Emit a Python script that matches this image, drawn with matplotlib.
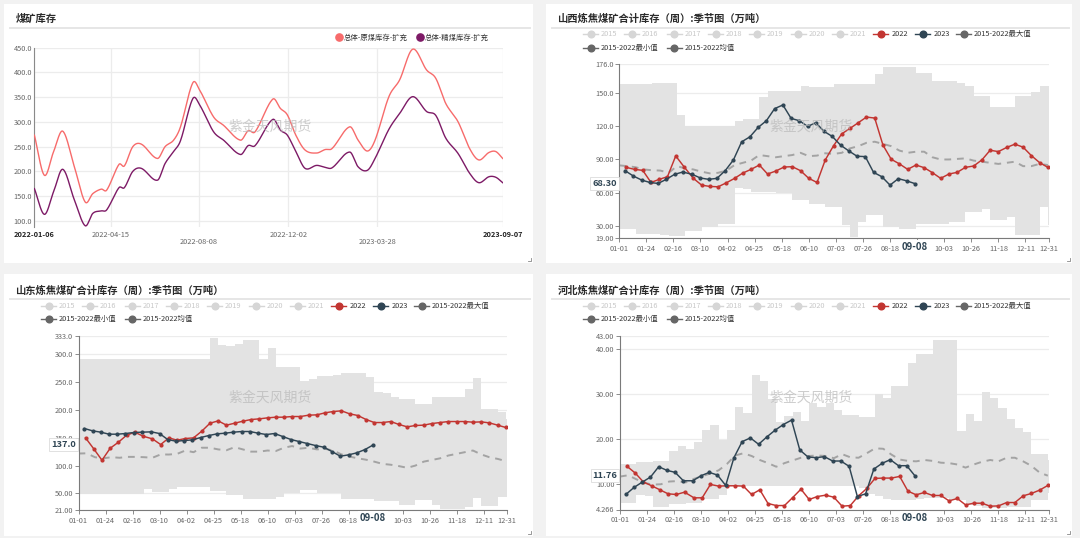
import numpy as np
import pandas as pd
import matplotlib
matplotlib.use('Agg')
import matplotlib.pyplot as plt
import matplotlib.dates as mdates
import matplotlib.transforms as mtransforms
from matplotlib.patches import Rectangle
from matplotlib.lines import Line2D

# ======================= DATA =======================
# Chart 1: 煤矿库存
coal_dates = ['2022-01-06', '2022-01-19', '2022-01-31', '2022-02-12', '2022-02-27', '2022-03-13',
              '2022-03-23', '2022-04-03', '2022-04-10', '2022-04-26', '2022-05-03', '2022-05-14',
              '2022-05-25', '2022-06-15', '2022-06-25', '2022-07-06', '2022-07-15', '2022-07-31',
              '2022-08-09', '2022-08-27', '2022-09-09', '2022-10-01', '2022-10-11', '2022-10-20',
              '2022-11-12', '2022-11-22', '2022-12-01', '2022-12-12', '2022-12-24', '2023-01-08',
              '2023-01-19', '2023-01-28', '2023-02-20', '2023-03-03', '2023-03-15', '2023-03-25',
              '2023-04-12', '2023-04-26', '2023-05-13', '2023-05-31', '2023-06-12', '2023-06-25',
              '2023-07-11', '2023-07-26', '2023-08-07', '2023-08-20', '2023-08-29', '2023-09-07']
raw_coal = [273, 192, 240, 281, 209, 138, 155, 164, 162, 214, 211, 250, 255, 226, 250, 263, 290, 379,
            364, 310, 293, 263, 282, 280, 346, 327, 314, 273, 243, 237, 244, 246, 290, 263, 241, 263,
            351, 385, 447, 405, 388, 337, 300, 246, 223, 238, 240, 226]
clean_coal = [165, 113, 159, 204, 142, 90, 115, 120, 122, 167, 167, 200, 206, 182, 216, 240, 262, 347,
              334, 280, 263, 234, 252, 252, 305, 283, 273, 240, 206, 212, 208, 207, 239, 209, 202, 226,
              285, 317, 351, 321, 313, 267, 236, 196, 177, 189, 188, 177]
coal_xlabels = ['2022-01-06', '2022-04-15', '2022-08-08', '2022-12-02', '2023-03-28', '2023-09-07']
coal_yticks = [100, 150, 200, 250, 300, 350, 400, 450]
coal_series_names = ['总体-原煤库存-扩充', '总体-精煤库存-扩充']

# Seasonal charts (category axis = days of year 01-01 .. 12-31 incl. 02-29)
season_xlabels = ['01-01', '01-24', '02-16', '03-10', '04-02', '04-25', '05-18', '06-10', '07-03',
                  '07-26', '08-18', '09-10', '10-03', '10-26', '11-18', '12-11', '12-31']
highlight_day = '09-08'
first_2022 = '2022-01-07'
first_2023 = '2023-01-06'
band_start = '01-01'
legend_years = ['2015', '2016', '2017', '2018', '2019', '2020', '2021', '2022', '2023']
legend_stats = ['2015-2022最大值', '2015-2022最小值', '2015-2022均值']

# 山西
sx_title = '山西炼焦煤矿合计库存（周）:季节图（万吨）'
sx_max = [157.6, 157.6, 157.6, 158, 158.5, 158.5, 158.5, 130, 120.4, 120.4, 120.4, 120.4, 120.4, 120.4,
          125, 126.4, 126.4, 146.4, 151.5, 151.5, 151.5, 151.5, 156.6, 155.4, 155.4, 155.4, 157.6,
          157.6, 157.6, 157.6, 157.6, 166.6, 173.6, 173.6, 173.6, 173.6, 167.5, 167.5, 160.6, 160.6,
          160.6, 158.5, 156.6, 147, 147, 137, 137, 137, 147, 147, 150.6, 156, 156]
sx_min = [27.6, 27.6, 22.5, 22.5, 22.5, 22, 21, 21, 26, 26, 29, 29, 31.6, 31.6, 64, 63, 61, 61, 61, 60,
          60, 53.3, 53.3, 50.3, 50.3, 47.3, 47.3, 30.7, 20, 33.7, 39.7, 39.7, 29.2, 29.2, 27.6, 27.6,
          32.2, 32.2, 32.2, 32.2, 33.7, 33.7, 42.8, 42.8, 45.8, 35.8, 35.8, 38.2, 21.6, 21.6, 21.6,
          47.3, 30.7]
sx_mean = [84.7, 84, 83, 81, 80.3, 80, 78, 84, 82, 81, 79, 77.5, 78, 80, 85, 87, 89, 94, 93, 92, 93, 94,
           96, 93, 93.5, 95.6, 95, 96, 100, 102, 105, 106, 104, 102, 98, 96, 97, 97, 92, 90, 90, 90.5,
           91, 89, 88, 87, 86, 87, 88, 84, 84, 86, 85]
sx_2022 = [82.9, 81.1, 80.2, 69.3, 72.1, 74.5, 93.2, 83.5, 73.0, 66.9, 65.7, 65.4, 69.0, 73.0, 77.8,
           81.1, 85.0, 76.9, 79.6, 83.2, 83.5, 79.9, 73.0, 69.3, 89.6, 102.3, 113.1, 118.0, 123.1,
           128.2, 127.3, 102.9, 90.2, 86.0, 81.1, 85.0, 82.6, 78.1, 73.0, 76.9, 78.4, 82.9, 84.1, 89.6,
           98.3, 97.1, 100.8, 103.8, 101.1, 93.5, 87.2, 82.9]
sx_2023 = [79.9, 75.1, 71.5, 69.3, 68.4, 72.1, 76.6, 78.7, 76.6, 73.3, 72.1, 73.0, 79.9, 89.6, 105.9,
           110.4, 118.9, 124.9, 135.8, 139.1, 127.0, 124.9, 119.8, 123.1, 115.3, 110.7, 102.9, 97.7,
           92.9, 92.6, 78.4, 74.5, 66.9, 72.7, 70.8, 68.3]
sx_yticks = [19, 30, 60, 90, 120, 150, 176]
sx_ylabels = ['19.00', '30.00', '60.00', '90.00', '120.0', '150.0', '176.0']

# 山东
sd_title = '山东炼焦煤矿合计库存（周）:季节图（万吨）'
sd_max = [290.4] * 16 + [329.3, 316.8, 314.4, 317.4, 325.1, 325.1, 290.4, 310.2, 277.2, 277.2, 277.2,
                         251.5, 254.5, 260.5, 260.5, 262.9, 265.9, 265.9, 265.9, 259.3, 231.7, 229.9,
                         222.7, 219.8, 219.8, 209.6, 209.6, 222.7, 222.7, 222.2, 222.2, 236.5, 256.3,
                         200.6, 200.6, 195.8, 184.4]
sd_min = [49.1] * 8 + [58, 53.3, 53.3, 58, 61, 61, 61, 61, 55, 55, 48, 48, 40.1, 40.1, 40.1, 40.1, 43.7,
                       50.9, 50.9, 56.9, 56.9, 50.9, 50.9, 50.9, 40.1, 40.1, 40.1, 40.1, 35.9, 35.9,
                       35.9, 28.7, 28.7, 38.9, 38.9, 29.9, 22.2, 22.2, 22.2, 25.8, 41.3, 28.1, 28.1,
                       43.7, 43.7]
sd_mean = [121.6, 122, 115, 113, 115, 114, 115.6, 115.6, 115, 114, 120, 119.8, 121, 127, 124, 132, 132,
           129, 127.5, 133, 129, 125, 125, 127, 126, 132, 135, 130.5, 132, 129, 130, 127, 120, 116, 113,
           110.5, 107, 103, 101.5, 99, 96, 100, 107, 110, 113, 118, 121, 124, 127, 120, 115, 112, 108]
sd_2022 = [149.7, 130, 109.6, 131.1, 141.9, 154.5, 159.9, 152.7, 147.9, 137.7, 149.7, 145.5, 148.5,
           149.7, 161.7, 176, 180.2, 172.5, 176, 179.6, 182.6, 183.8, 185.6, 186.8, 186.8, 188, 188,
           190.4, 191, 194.6, 197, 198.2, 192.8, 189.8, 182.6, 177.2, 177.2, 179, 173.7, 169.5, 171.9,
           172.5, 175.4, 177.2, 179, 179, 179, 177.8, 178.4, 176.6, 172.5, 168.3]
sd_2023 = [166.5, 162.3, 159.9, 156.3, 156.3, 157.5, 159.3, 159.9, 160.5, 157.5, 146.7, 143.7, 144.9,
           146.1, 150.3, 153.9, 156.9, 158.1, 159.9, 161.1, 161.1, 158.1, 155.7, 157.5, 152.1, 146.7,
           143.1, 139.5, 135.9, 132.9, 125.1, 116.8, 119.2, 122.8, 128.7, 137.0]
sd_yticks = [21, 50, 100, 150, 200, 250, 300, 333]
sd_ylabels = ['21.00', '50.00', '100.0', '150.0', '200.0', '250.0', '300.0', '333.0']

# 河北
hb_title = '河北炼焦煤矿合计库存（周）:季节图（万吨）'
hb_max = [14.4, 14.4, 14.9, 14.9, 15.07, 15.07, 17.3, 18.4, 17.8, 19.4, 21.9, 23.06, 19.8, 21.9, 27.2,
          25.7, 34.2, 32.8, 29.0, 23.7, 25.2, 26.1, 23.9, 28, 27, 28, 26.5, 25.4, 25.4, 24.8, 24.8,
          30.1, 29.1, 31.9, 31.9, 36.9, 38.96, 38.96, 42, 42, 42, 21.8, 25.6, 24, 30.4, 29.1, 26.9,
          24.5, 22.5, 21.5, 16.6, 16.6, 15.3]
hb_min = [5.8, 5.8, 7.6, 7.3, 4.85, 4.85, 5.6, 5.6, 5.8, 5.8, 6.7, 6.7, 7.6, 9.5] + [9.6] * 15 + \
         [9.0, 7.8, 7.2, 6.7, 6.4, 6.4, 6.4, 6.6, 6.8, 6.8, 6.8, 6.4, 6.4, 5.3, 5.0, 4.6, 4.6, 4.7, 4.8,
          4.8, 4.8, 6.3, 6.3, 7.9]
hb_mean = [11.6, 11.9, 11.0, 10.2, 9.8, 9.9, 10.5, 10.6, 10.3, 11.1, 11.7, 12.3, 13.0, 14.4, 16.3, 16.8,
           16.2, 15.3, 14.6, 13.8, 14.6, 15.2, 15.8, 16.2, 16.3, 16.2, 15.7, 16.6, 15.9, 15.8, 16.8,
           17.9, 17.8, 16.5, 15.4, 15.1, 15.0, 15.3, 15.1, 14.7, 14.6, 14.3, 13.6, 14.3, 14.9, 15.3,
           15.0, 15.8, 15.8, 15.0, 14.0, 12.5, 11.8]
hb_2022 = [13.9, 12.4, 10.4, 9.55, 8.66, 7.76, 7.61, 8.13, 6.87, 6.87, 9.85, 9.48, 9.55, 9.55, 9.48,
           7.61, 8.66, 5.6, 5.15, 5.15, 6.94, 8.8, 6.5, 7.16, 7.46, 7.0, 5.0, 5.15, 7.31, 8.96, 11.2,
           11.27, 11.27, 11.64, 8.36, 7.54, 8.06, 7.39, 7.39, 6.19, 6.72, 5.3, 5.67, 5.67, 5.0, 5.07,
           5.82, 5.82, 7.31, 7.84, 8.58, 9.63]
hb_2023 = [7.61, 9.18, 10.37, 11.49, 13.8, 12.99, 12.54, 10.67, 10.67, 11.79, 12.54, 11.94, 9.63,
           15.82, 19.4, 20.22, 18.8, 20.45, 21.94, 23.2, 24.18, 17.54, 15.97, 15.82, 16.04, 15.07,
           15.07, 13.88, 7.16, 7.76, 13.28, 14.55, 15.37, 14.03, 14.03, 11.76]
hb_yticks = [4.266, 10, 20, 30, 40, 43]
hb_ylabels = ['4.266', '10.00', '20.00', '30.00', '40.00', '43.00']

# ======================= STYLE =======================
plt.rcParams['font.family'] = ['Noto Sans CJK SC', 'DejaVu Sans']
W, H = 1080, 538
BG = '#f2f2f2'
RED = '#c23531'
NAVY = '#2f4554'
BAND = '#e3e3e3'
GRID = '#ececec'
AXC = '#7a7a7a'
TXT = '#666666'
SMALL = 5.3

fig = plt.figure(figsize=(W / 100, H / 100), dpi=100)
fig.patch.set_facecolor(BG)


def fx(x):
    return x / W


def fy(y):
    return 1 - y / H


def add_ax(l, t, r, b):
    return fig.add_axes([fx(l), fy(b), (r - l) / W, (b - t) / H])


def panel(x0, y0, x1, y1, title, ty, sep_y):
    fig.add_artist(Rectangle((fx(x0), fy(y1)), (x1 - x0) / W, (y1 - y0) / H,
                             transform=fig.transFigure, fc='white', ec='none', zorder=-5))
    fig.add_artist(Line2D([fx(x0 + 6), fx(x1 - 3)], [fy(sep_y), fy(sep_y)],
                          transform=fig.transFigure, color='#e6e6e6', lw=1.4, zorder=-4))
    fig.text(fx(x0 + 11.5), fy(ty), title, fontsize=7.4, fontweight='bold', color='#2b2b2b',
             va='center', ha='left')
    # resize handle
    fig.add_artist(Line2D([fx(x1 - 5), fx(x1 - 2), fx(x1 - 2)], [fy(y1 - 2), fy(y1 - 2), fy(y1 - 5)],
                          transform=fig.transFigure, color='#888888', lw=0.6))


def watermark(cx, cy):
    fig.text(fx(cx), fy(cy), '紫金天风期货', fontsize=10, color='#b8b8b8', alpha=0.7,
             ha='center', va='center', zorder=20)


def cat_index(dates):
    out = []
    for d in dates:
        d = pd.Timestamp(d) if not isinstance(d, str) or len(d) > 5 else pd.Timestamp('2020-' + d)
        out.append(pd.Timestamp(2020, d.month, d.day).dayofyear - 1)
    return np.array(out)


def smooth(xs, ys, n=24):
    xs = np.asarray(xs, float)
    ys = np.asarray(ys, float)
    m = np.zeros_like(ys)
    m[1:-1] = (ys[2:] - ys[:-2]) / (xs[2:] - xs[:-2])
    m[0] = (ys[1] - ys[0]) / (xs[1] - xs[0])
    m[-1] = (ys[-1] - ys[-2]) / (xs[-1] - xs[-2])
    X, Y = [], []
    t = np.linspace(0, 1, n, endpoint=False)
    h00 = 2 * t ** 3 - 3 * t ** 2 + 1
    h10 = t ** 3 - 2 * t ** 2 + t
    h01 = -2 * t ** 3 + 3 * t ** 2
    h11 = t ** 3 - t ** 2
    for i in range(len(xs) - 1):
        h = xs[i + 1] - xs[i]
        X.append(xs[i] + t * h)
        Y.append(h00 * ys[i] + h10 * h * m[i] + h01 * ys[i + 1] + h11 * h * m[i + 1])
    X.append([xs[-1]])
    Y.append([ys[-1]])
    return np.concatenate(X), np.concatenate(Y)


# ======================= PANEL 1 =======================
panel(4, 4, 533, 263, '煤矿库存', 18.3, 28.3)
ax1 = add_ax(34.4, 47.7, 502.7, 226.7)
xd = mdates.date2num(pd.to_datetime(coal_dates))
c_red = '#f76b6b'
c_pur = '#7d1a66'
sx_, sy_ = smooth(xd, raw_coal)
ax1.plot(sx_, sy_, color=c_red, lw=1.0, zorder=3)
sx_, sy_ = smooth(xd, clean_coal)
ax1.plot(sx_, sy_, color=c_pur, lw=1.0, zorder=3)
lab_dates = mdates.date2num(pd.to_datetime(coal_xlabels))
ax1.set_xlim(lab_dates[0], lab_dates[-1])
ax1.set_ylim(88, coal_yticks[-1])
ax1.set_yticks(coal_yticks)
ax1.set_yticklabels([f'{v:.1f}' for v in coal_yticks])
ax1.set_xticks(lab_dates)
ax1.set_xticklabels(coal_xlabels)
ax1.grid(True, color=GRID, lw=0.9)
ax1.set_axisbelow(True)
for s in ['top', 'right', 'bottom']:
    ax1.spines[s].set_visible(False)
ax1.spines['left'].set_color('#8a8a8a')
ax1.spines['left'].set_linewidth(0.8)
ax1.tick_params(axis='both', length=0, labelsize=SMALL, labelcolor=TXT)
ax1.tick_params(axis='y', pad=1.5)
ax1.tick_params(axis='x', pad=3.2)
for i, lab in enumerate(ax1.get_xticklabels()):
    if i in (0, len(coal_xlabels) - 1):
        lab.set_fontweight('bold')
        lab.set_color('#222222')
    if i in (2, 4):
        lab.set_transform(lab.get_transform() +
                          mtransforms.ScaledTranslation(0, -6.7 / 100, fig.dpi_scale_trans))
# legend chart 1
for (cx, col, name) in [(338.5, c_red, coal_series_names[0]), (420.0, c_pur, coal_series_names[1])]:
    fig.add_artist(Line2D([fx(cx)], [fy(37.3)], marker='o', ms=5.2, color=col, mec=col,
                          transform=fig.transFigure, lw=0))
    fig.text(fx(cx + 5), fy(37.3), name, fontsize=SMALL, color='#333333', va='center', ha='left')
watermark(270, 127)


# ======================= SEASONAL PANELS =======================
def legend_rows(left, y1, y2):
    offs = [37, 78, 120.7, 162, 203, 244.7, 286, 327.3, 369.3]
    cols = ['#d6d6d6'] * 7 + [RED, NAVY]
    tcols = ['#c8c8c8'] * 7 + ['#333333', '#333333']
    items = []
    for name, o, c, tc in zip(legend_years, offs, cols, tcols):
        items.append((name, left + o, y1, c, tc))
    items.append((legend_stats[0], left + 410, y1, '#666666', '#333333'))
    items.append((legend_stats[1], left + 37, y2, '#666666', '#333333'))
    items.append((legend_stats[2], left + 120.7, y2, '#666666', '#333333'))
    for name, x0, y, c, tc in items:
        fig.add_artist(Line2D([fx(x0), fx(x0 + 15)], [fy(y), fy(y)], color=c, lw=1.0,
                              transform=fig.transFigure))
        fig.add_artist(Line2D([fx(x0 + 7.5)], [fy(y)], marker='o', ms=4.8, color=c, mec=c, lw=0,
                              transform=fig.transFigure))
        fig.text(fx(x0 + 18), fy(y), name, fontsize=SMALL, color=tc, va='center', ha='left')


def season(box, title, vmax, vmin, vmean, v22, v23, yt, ylab, hl_txt):
    (px0, py0, px1, py1), (l, t, r, b), (ty, sep, ly1, ly2) = box
    panel(px0, py0, px1, py1, title, ty, sep)
    legend_rows(px0, ly1, ly2)
    ax = add_ax(l, t, r, b)
    wk = cat_index(pd.date_range('2020-' + band_start, periods=len(vmax), freq='7D'))
    xs = np.append(wk, 365)
    ax.fill_between(xs, np.append(vmin, vmin[-1]), np.append(vmax, vmax[-1]), step='post',
                    color=BAND, lw=0, zorder=1)
    ax.plot(wk, vmean, color='#a3a3a3', lw=1.4, ls=(0, (3.5, 3)), zorder=2)
    d22 = cat_index(pd.date_range(first_2022, periods=len(v22), freq='7D'))
    d23 = cat_index(pd.date_range(first_2023, periods=len(v23), freq='7D'))
    ax.plot(d22, v22, color=RED, lw=1.05, marker='o', ms=2.0, zorder=3)
    ax.plot(d23, v23, color=NAVY, lw=1.05, marker='o', ms=2.0, zorder=4)
    ax.set_xlim(0, 365)
    ax.set_ylim(yt[0], yt[-1])
    ax.set_yticks(yt)
    ax.set_yticklabels(ylab)
    hl_idx = cat_index([highlight_day])[0]
    xt = cat_index(season_xlabels)
    ax.set_xticks(xt)
    # labels falling under the axis-pointer label are hidden, as in the original
    ax.set_xticklabels([('' if abs(i - hl_idx) < 8 else s) for i, s in zip(xt, season_xlabels)])
    ax.grid(True, axis='y', color=GRID, lw=0.9)
    ax.set_axisbelow(True)
    for s in ['top', 'right']:
        ax.spines[s].set_visible(False)
    for s in ['left', 'bottom']:
        ax.spines[s].set_color(AXC)
        ax.spines[s].set_linewidth(0.8)
    ax.tick_params(axis='both', length=2.6, width=0.6, color=AXC, labelsize=SMALL,
                   labelcolor=TXT, pad=1.3)
    ax.tick_params(axis='x', pad=2.4)
    # highlighted x label (axis pointer)
    ax.annotate(highlight_day, xy=(hl_idx, 0),
                xycoords=('data', 'axes fraction'), xytext=(0, -8.4), textcoords='offset pixels',
                ha='center', va='center', fontsize=6.9, fontweight='bold', color=NAVY,
                bbox=dict(boxstyle='square,pad=0.2', fc='white', ec='none'),
                annotation_clip=False, zorder=10)
    # highlighted y label
    ax.annotate(hl_txt, xy=(0, v23[-1]), xycoords=('axes fraction', 'data'), xytext=(-2.5, 0),
                textcoords='offset pixels', ha='right', va='center', fontsize=6.6,
                fontweight='bold', color=NAVY,
                bbox=dict(boxstyle='square,pad=0.22', fc='white', ec='#dcdcdc', lw=0.6),
                annotation_clip=False, zorder=10)
    return ax


season(((546, 4, 1072, 263), (619.2, 64, 1049, 238.3), (18.3, 28.3, 34.0, 47.7)),
       sx_title, sx_max, sx_min, sx_mean, sx_2022, sx_2023, sx_yticks, sx_ylabels, '68.30')
watermark(811, 127)

season(((4, 274, 533, 536), (78.5, 335.7, 507, 509.6), (290.7, 299.3, 306.0, 319.3)),
       sd_title, sd_max, sd_min, sd_mean, sd_2022, sd_2023, sd_yticks, sd_ylabels, '137.0')
watermark(270, 398)

season(((546, 274, 1072, 536), (619.9, 335.7, 1049, 509.5), (290.7, 299.3, 306.0, 319.3)),
       hb_title, hb_max, hb_min, hb_mean, hb_2022, hb_2023, hb_yticks, hb_ylabels, '11.76')
watermark(811, 398)

fig.savefig('out.png', dpi=100, facecolor=BG)
